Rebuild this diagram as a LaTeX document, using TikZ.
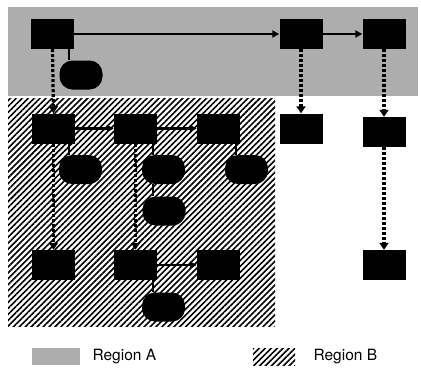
\documentclass[tikz,border=0pt]{standalone}
\usepackage{fontspec}
\setmainfont{TeX Gyre Heros}
\usepackage{tikz}
\usetikzlibrary{positioning, calc, arrows.meta, patterns.meta}

\begin{document}
\begin{tikzpicture}[x=1pt, y=-1pt,
  unit/.style={fill=black, inner sep=0pt, minimum width=43pt, minimum height=30pt},
  blob/.style={fill=black, inner sep=0pt, rounded corners=13pt, minimum width=43pt, minimum height=29pt},
  flow/.style={line width=2.2pt, -{Triangle[length=7pt,width=7pt]}},
  move/.style={line width=3.2pt, dash pattern=on 3pt off 2pt, -{Triangle[length=7pt,width=9pt]}},
  tie/.style={line width=1.8pt},
  regA/.style={fill=black!32},
  regB/.style={pattern={Lines[angle=45,distance=4.2pt,line width=1.6pt]}}]
  \useasboundingbox (0,0) rectangle (421,370);

  % regions
  \fill[regA] (8,7) rectangle (418,96);
  \fill[regB] (8,98) rectangle (275,326);

  % top row
  \node[unit] (t1) at (52.5,34) {};
  \node[unit] (t2) at (301,34) {};
  \node[unit] (t3) at (384,34) {};
  \node[blob] (e0) at (81,75) {};

  % second row
  \node[unit] (a1) at (53.5,128.5) {};
  \node[unit] (a2) at (135.5,128.5) {};
  \node[unit] (a3) at (218.5,128.5) {};
  \node[unit] (r1) at (301,128.5) {};
  \node[unit] (r2) at (384,132) {};
  \node[blob] (e1) at (80.5,169.5) {};
  \node[blob] (e2) at (163.5,169.5) {};
  \node[blob] (e3) at (246.5,169.5) {};
  \node[blob] (e4) at (164,211) {};

  % third row
  \node[unit] (c1) at (53.5,265) {};
  \node[unit] (c2) at (135.5,265) {};
  \node[unit] (c3) at (218.5,265) {};
  \node[unit] (r3) at (384,265) {};
  \node[blob] (e5) at (163.5,307) {};

  % solid arrows
  \draw[flow] (t1) -- (t2);
  \draw[flow] (t2) -- (t3);
  \draw[flow] (a1) -- (a2);
  \draw[flow] (a2) -- (a3);
  \draw[flow] (c2) -- (c3);

  % dashed arrows
  \draw[move] (t1.south) -- (a1.north);
  \draw[move] (t2.south) -- (r1.north);
  \draw[move] (t3.south) -- (r2.north);
  \draw[move] (a1.south) -- (c1.north);
  \draw[move] (a2.south) -- (c2.north);
  \draw[move] (r2.south) -- (r3.north);

  % ties to the blobs
  \draw[tie] ([xshift=16.5pt]t1.south) -- ([xshift=16.5pt]t1.south |- e0.north);
  \draw[tie] ([xshift=15.5pt]a1.south) -- ([xshift=15.5pt]a1.south |- e1.north);
  \draw[tie] ([xshift=17.5pt]a2.south) -- ([xshift=17.5pt]a2.south |- e2.north);
  \draw[tie] ([xshift=17.5pt]a2.south |- e2.south) -- ([xshift=17.5pt]a2.south |- e4.north);
  \draw[tie] ([xshift=17.5pt]a3.south) -- ([xshift=17.5pt]a3.south |- e3.north);
  \draw[tie] ([xshift=17.5pt]c2.south) -- ([xshift=17.5pt]c2.south |- e5.north);

  % legend
  \fill[regA] (32,348) rectangle (80,365);
  \node[anchor=west, font=\fontsize{15.5}{17}\selectfont] (la) at (89,357) {Region A};
  \fill[regB] (253,348) rectangle (295,365);
  \node[anchor=west, font=\fontsize{15.5}{17}\selectfont] (lb) at (310,357) {Region B};
\end{tikzpicture}
\end{document}
